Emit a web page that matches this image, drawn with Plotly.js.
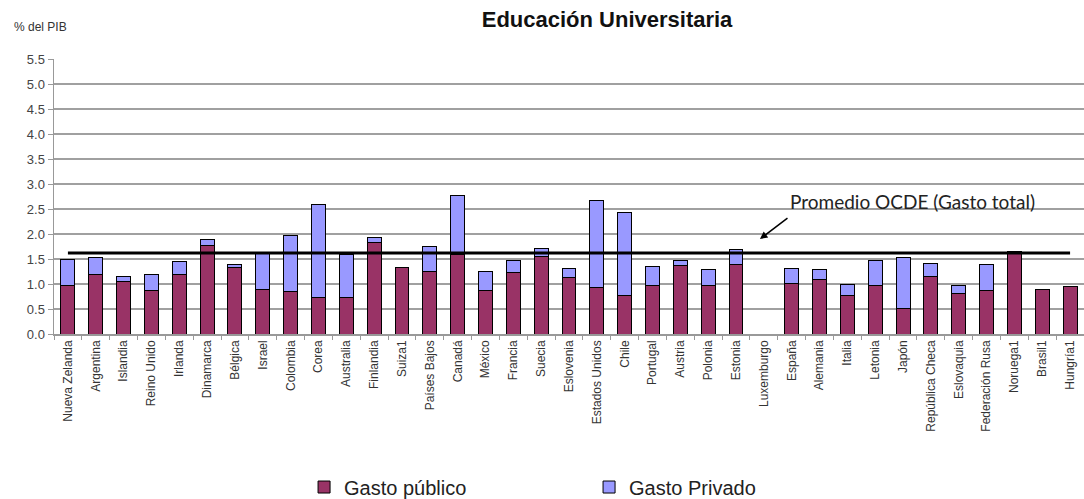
<!DOCTYPE html>
<html>
<head>
<meta charset="utf-8">
<script src="https://cdn.plot.ly/plotly-3.0.1.min.js"></script>
<style>html,body{margin:0;padding:0;background:#fff;}#chart{width:1084px;height:499px;}</style>
</head>
<body>
<div id="chart"></div>
<script>
const countries = ["Nueva Zelanda","Argentina","Islandia","Reino Unido","Irlanda","Dinamarca","Bélgica","Israel","Colombia","Corea","Australia","Finlandia","Suiza1","Países Bajos","Canadá","México","Francia","Suecia","Eslovenia","Estados Unidos","Chile","Portugal","Austria","Polonia","Estonia","Luxemburgo","España","Alemania","Italia","Letonia","Japón","República Checa","Eslovaquia","Federación Rusa","Noruega1","Brasil1","Hungría1"];
const gastoPublico = [0.97,1.2,1.05,0.87,1.2,1.78,1.33,0.89,0.85,0.73,0.73,1.84,1.33,1.26,1.6,0.87,1.23,1.56,1.13,0.93,0.78,0.97,1.38,0.98,1.4,null,1.02,1.1,0.77,0.97,0.52,1.15,0.82,0.87,1.65,0.9,0.95];
const gastoPrivado = [0.53,0.34,0.10,0.33,0.26,0.12,0.07,0.75,1.13,1.87,0.87,0.09,null,0.49,1.18,0.39,0.24,0.16,0.18,1.75,1.66,0.39,0.09,0.32,0.30,null,0.30,0.20,0.22,0.50,1.02,0.27,0.15,0.52,null,null,null];
const promedioOCDE = 1.62;
const yTicks = [0,0.5,1,1.5,2,2.5,3,3.5,4,4.5,5,5.5];

const FONT = "Liberation Sans, Arial, sans-serif";

const traces = [
  {type:'bar', name:'Gasto público', x:countries, y:gastoPublico,
   marker:{color:'#993366', line:{color:'#000', width:1}}},
  {type:'bar', name:'Gasto Privado', x:countries, y:gastoPrivado,
   marker:{color:'#9999FF', line:{color:'#000', width:1}}},
  {type:'scatter', mode:'lines', x:countries, y:countries.map(()=>promedioOCDE),
   line:{color:'#000', width:3}, showlegend:false, hoverinfo:'skip'}
];

const layout = {
  width:1084, height:499,
  margin:{l:54, r:0, t:59, b:165},
  paper_bgcolor:'#fff', plot_bgcolor:'#fff',
  barmode:'stack', bargap:0.5,
  font:{family:FONT, color:'#333'},
  title:{text:'<b>Educación Universitaria</b>', x:0.56, xanchor:'center', y:0.962, yanchor:'middle',
         font:{family:FONT, size:22, color:'#111'}},
  xaxis:{type:'category', tickangle:-90, tickfont:{size:12, color:'#333'},
         showline:true, linecolor:'#999', linewidth:1.5,
         ticks:'outside', tickson:'boundaries', ticklen:4, tickcolor:'#999',
         showgrid:false, range:[-0.5, countries.length-0.5], automargin:false},
  yaxis:{range:[0,5.5], tickvals:yTicks, ticktext:yTicks.map(v=>v.toFixed(1)),
         tickfont:{size:13, color:'#444'}, showgrid:true, gridcolor:'#a0a0a0', gridwidth:1.5,
         showline:true, linecolor:'#999', linewidth:1.5, ticks:'outside', ticklen:5, tickcolor:'#999',
         zeroline:false, automargin:false},
  legend:{orientation:'h', xref:'container', yref:'container', x:0.2805, xanchor:'left', y:0.024, yanchor:'middle',
          font:{family:FONT, size:20, color:'#222'}, entrywidth:240, entrywidthmode:'pixels',
          itemwidth:30, traceorder:'normal'},
  annotations:[
    {xref:'paper', yref:'paper', x:-0.041, y:1.115, xanchor:'left', yanchor:'middle',
     text:'% del PIB', showarrow:false, font:{family:FONT, size:12, color:'#333'}},
    {xref:'x', yref:'y', x:25.85, y:2.66, xanchor:'left', yanchor:'middle',
     text:'Promedio OCDE (Gasto total)', showarrow:false, font:{family:'Lato, sans-serif', size:19, color:'#222'}},
    {xref:'x', yref:'y', x:24.86, y:1.9, text:'', showarrow:true, arrowhead:2, arrowsize:1, arrowwidth:1.5,
     arrowcolor:'#000', ax:29, ay:-22}
  ]
};

Plotly.newPlot('chart', traces, layout, {displayModeBar:false, staticPlot:true});
</script>
</body>
</html>
